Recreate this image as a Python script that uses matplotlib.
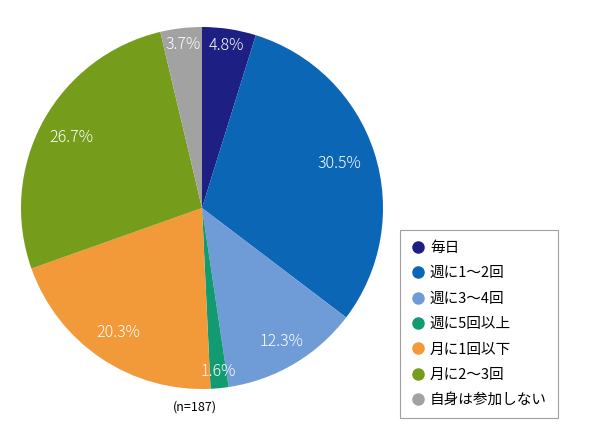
import matplotlib
matplotlib.use("Agg")
import matplotlib.pyplot as plt
from matplotlib.lines import Line2D
import numpy as np

plt.rcParams['font.family'] = ['Noto Sans CJK JP', 'DejaVu Sans']

categories = ["毎日", "週に1〜2回", "週に3〜4回", "週に5回以上", "月に1回以下", "月に2〜3回", "自身は参加しない"]
values = [4.8, 30.5, 12.3, 1.6, 20.3, 26.7, 3.7]
labels = ["4.8%", "30.5%", "12.3%", "1.6%", "20.3%", "26.7%", "3.7%"]
colors = ["#1e1f82", "#0b66b6", "#6f9cd6", "#129a70", "#f2993a", "#769c1c", "#a2a2a2"]
label_dist = [0.91, 0.80, 0.86, 0.91, 0.83, 0.82, 0.91]

fig = plt.figure(figsize=(5.9, 4.4), dpi=100)
cx, cy, R = 202, 208, 181
ax = fig.add_axes([(cx - R) / 590, (440 - cy - R) / 440, 2 * R / 590, 2 * R / 440])
wedges, _ = ax.pie(values, colors=colors, startangle=90, counterclock=False,
                   wedgeprops=dict(linewidth=0))
ax.set_xlim(-1, 1)
ax.set_ylim(-1, 1)
ax.set_aspect('equal')

total = sum(values)
cum = 0
for v, lab, d in zip(values, labels, label_dist):
    mid = 90 - (cum + v / 2) / total * 360
    cum += v
    t = np.deg2rad(mid)
    ax.text(d * np.cos(t), d * np.sin(t), lab, color="white", fontsize=11.5,
            ha="center", va="center", fontweight="light")

fig.text(195 / 590, 1 - 407 / 440, "(n=187)", fontsize=9, ha="center", va="center")

handles = [Line2D([], [], marker='o', linestyle='', markersize=8,
                  markerfacecolor=c, markeredgecolor=c) for c in colors]
leg = fig.legend(handles, categories, loc="upper left",
                 bbox_to_anchor=(400 / 590, 1 - 230 / 440),
                 frameon=True, fancybox=False, fontsize=10.5,
                 handletextpad=0.3, labelspacing=0.78, borderpad=0.75,
                 handlelength=1.0, borderaxespad=0)
leg.get_frame().set_edgecolor("#888888")
leg.get_frame().set_linewidth(0.8)

fig.savefig("out.png", dpi=100)
